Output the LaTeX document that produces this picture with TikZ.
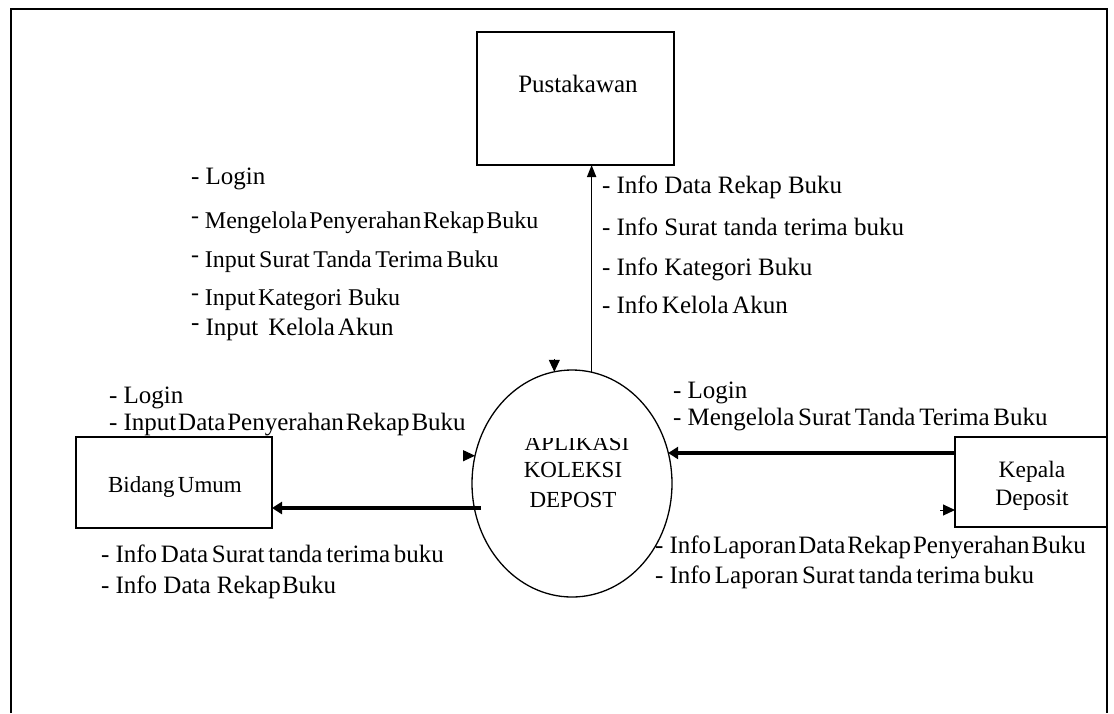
\documentclass[tikz,border=0pt]{standalone}
\usepackage{fontspec}
\setmainfont{Liberation Serif}
\usetikzlibrary{arrows.meta,shapes.geometric,calc}

% bullet dashes: plain and raised, each followed by a normal word space
\newcommand{\sdash}{-\hspace{0.25em}}
\newcommand{\rdash}{\raisebox{0.2em}{-}\hspace{0.25em}}
% narrower word spaces for the closely set lines
\newcommand{\tightsp}{\spaceskip=0.075em\relax}
\newcommand{\medsp}{\spaceskip=0.15em\relax}

\begin{document}
\begin{tikzpicture}[x=1pt,y=-1pt,
  every node/.style={inner sep=0pt, outer sep=0pt},
  lst/.style={anchor=base west, font=\fontsize{25}{30}\selectfont},
  lstsm/.style={anchor=base west, font=\fontsize{24}{30}\selectfont},
  boxlbl/.style={anchor=base, font=\fontsize{23}{28}\selectfont},
  entity/.style={draw, line width=1.3pt, rectangle},
  process/.style={draw, line width=1.3pt, ellipse, minimum width=200pt, minimum height=227pt},
  flowthin/.style={line width=1.7pt, -{Triangle[length=12pt,width=9pt]}},
  flowthick/.style={line width=4pt, -{Triangle[length=10pt,width=12pt]}},
  stub/.style={line width=1pt, -{Triangle[length=12pt,width=11pt]}},
]
\useasboundingbox (0,0) rectangle (1114,713);

% outer frame, open at the bottom
\draw[line width=2pt] (11,713) -- (11,9) -- (1107,9) -- (1107,713);

% entities and the process
\node[entity, minimum width=197pt, minimum height=133pt] (pust) at (575.5,98.5) {};
\node[entity, minimum width=196pt, minimum height=91pt] (bidang) at (174,482.5) {};
\node[entity, minimum width=152pt, minimum height=90pt] (kepala) at (1031,482) {};
\node[process] (app) at (572,483.5) {};

\node[boxlbl, font=\fontsize{25}{30}\selectfont] (pust-t) at (578,92) {Pustakawan};
\node[boxlbl] (bid-t) at (175,492) {\medsp Bidang Umum};
\node[boxlbl, font=\fontsize{23.5}{28}\selectfont] (kep-t1) at (1032,477) {Kepala};
\node[boxlbl, font=\fontsize{23.5}{28}\selectfont] (kep-t2) at (1032,505) {Deposit};

\begin{scope}
  \clip (460,438) rectangle (690,620);
  \node[boxlbl] (app-t1) at (577,450) {APLIKASI};
  \node[boxlbl] (app-t2) at (573,477) {KOLEKSI};
  \node[boxlbl] (app-t3) at (573,507) {DEPOST};
\end{scope}

% data flows
\draw[flowthin] (app.80) -- (app.80 |- pust.south);
\coordinate (pin) at ($(app.99)+(0,-13)$);
\draw[stub] (pin) -- (app.99);
\coordinate (lin) at ($(app.164)+(-12,0)$);
\draw[stub] (lin) -- (app.164);
\coordinate (s1) at ($(app.west)+(9,24.5)$);
\draw[flowthick] (s1) -- (s1 -| bidang.east);
\coordinate (k1) at ($(kepala.west)+(0,-29)$);
\draw[flowthick] (k1) -- (k1 -| app.18);
\coordinate (kin) at ($(kepala.west)+(-15,28)$);
\draw[stub] (kin) -- (kin -| kepala.west);

% Pustakawan inputs
\node[lst] (pi1) at (191,184) {- Login};
\node[lstsm] (pi2) at (191,228) {\tightsp\rdash Mengelola Penyerahan Rekap Buku};
\node[lstsm] (pi3) at (191,267) {\medsp\rdash Input Surat Tanda Terima Buku};
\node[lstsm] (pi4) at (191,305) {\rdash Input\hspace{0.1em}Kategori Buku};
\node[lst] (pi5) at (191,335) {\rdash Input\hspace{0.4em}Kelola\hspace{0.12em}Akun};

% Pustakawan outputs
\node[lst] (po1) at (602,193) {- Info Data Rekap Buku};
\node[lst] (po2) at (602,235) {- Info Surat tanda terima buku};
\node[lst] (po3) at (602,275) {- Info Kategori Buku};
\node[lst] (po4) at (602,313) {\medsp\sdash Info Kelola Akun};

% Bidang Umum inputs and outputs
\node[lst] (bi1) at (109,403) {- Login};
\node[lst] (bi2) at (109,430) {\tightsp\sdash Input Data Penyerahan Rekap Buku};
\node[lst] (bo1) at (101,562) {\medsp\sdash Info Data Surat tanda terima buku};
\node[lst] (bo2) at (101,593) {- Info Data Rekap\hspace{0.05em}Buku};

% Kepala Deposit inputs and outputs
\node[lst] (ki1) at (673,398) {- Login};
\node[lst] (ki2) at (673,425) {\medsp\sdash Mengelola Surat Tanda Terima Buku};
\node[lst] (ko1) at (655,553) {\tightsp\sdash Info Laporan Data Rekap Penyerahan Buku};
\node[lst] (ko2) at (655,583) {\medsp\sdash Info Laporan Surat tanda terima buku};
\end{tikzpicture}
\end{document}
